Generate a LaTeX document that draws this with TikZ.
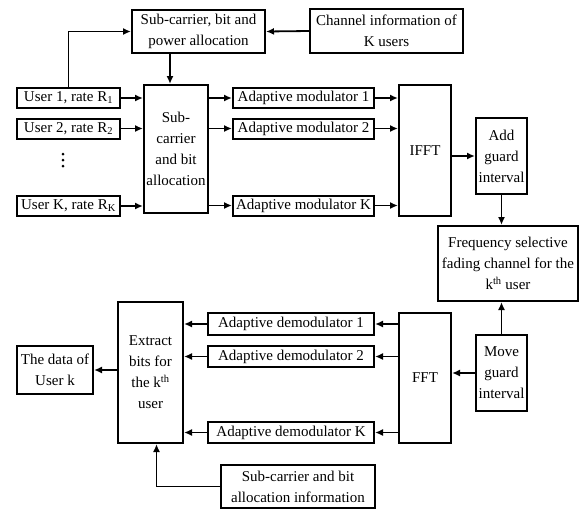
\documentclass[tikz,border=0pt]{standalone}
\usepackage{fontspec}
\setmainfont{Liberation Serif}
\usetikzlibrary{arrows.meta,positioning,calc}

\begin{document}
\begin{tikzpicture}[
  x=1pt, y=-1pt,
  >={Latex[length=8pt,width=7pt]},
  every node/.style={inner sep=1pt},
  box/.style={draw, line width=2pt, align=center, font=\fontsize{15}{21}\selectfont},
  row/.style={box, minimum height=20pt},
  tall/.style={box, minimum width=52pt},
  flow/.style={->, line width=1.8pt}
]
\useasboundingbox (0,0) rectangle (579,509);

% --- Transmitter side ---
\node[box, minimum width=133pt, minimum height=43pt] (alloc)  at (198.5,31.5) {Sub-carrier, bit and\\ power allocation};
\node[box, minimum width=153pt, minimum height=44pt] (chinfo) at (386.5,31)   {Channel information of\\ K users};

\node[row, minimum width=103pt] (user1) at (68.5,98)    {User 1, rate R\textsubscript{1}};
\node[row, minimum width=103pt] (user2) at (68.5,128.5) {User 2, rate R\textsubscript{2}};
\node[minimum width=6pt, minimum height=18pt] (dots) at (63,160) {};
\node[row, minimum width=103pt] (userK) at (68.5,206)   {User K, rate R\textsubscript{K}};

\node[box, minimum width=64pt, minimum height=128pt] (sba) at (176,149) {Sub-\\ carrier\\ and bit\\ allocation};

\node[row, minimum width=141pt] (mod1) at (303.5,98)    {Adaptive modulator 1};
\node[row, minimum width=141pt] (mod2) at (303.5,128.5) {Adaptive modulator 2};
\node[row, minimum width=141pt] (modK) at (303.5,205.5) {Adaptive modulator K};

\node[tall, minimum height=131pt] (ifft)  at (425,150.5) {IFFT};
\node[box, minimum width=51pt, minimum height=76pt] (addgi) at (501.5,156) {Add\\ guard\\ interval};

% --- Channel ---
\node[box, minimum width=140pt, minimum height=75pt] (fsc) at (508,263.5) {Frequency selective\\ fading channel for the\\ k\textsuperscript{th} user};

% --- Receiver side ---
\node[box, minimum width=51pt, minimum height=76pt] (mgi) at (501.5,373) {Move\\ guard\\ interval};
\node[tall, minimum height=130pt] (fft) at (425,378) {FFT};

\node[row, minimum width=166pt, minimum height=22pt] (dem1) at (291,324)   {Adaptive demodulator 1};
\node[row, minimum width=166pt, minimum height=21pt] (dem2) at (291,356.5) {Adaptive demodulator 2};
\node[row, minimum width=166pt, minimum height=21pt] (demK) at (291,432.5) {Adaptive demodulator K};

\node[box, minimum width=65pt, minimum height=141pt] (extract) at (150.5,372.5) {Extract\\ bits for\\ the k\textsuperscript{th}\\ user};
\node[box, minimum width=76pt, minimum height=48pt]  (data)    at (55,370)       {The data of\\ User k};
\node[box, minimum width=154pt, minimum height=43pt] (sbinfo)  at (298,486.5)    {Sub-carrier and bit\\ allocation information};

% vertical dots between the users
\foreach \dy in {-6,0,6} {
  \fill ($(dots)+(0,\dy)$) circle (1.5pt);
}

% --- connectors ---
\draw[flow] (chinfo.west) -- (alloc.east);
\draw[flow] (user1.north) |- (alloc.west);
\draw[flow] ([xshift=-6pt]alloc.south -| sba.north) -- ([xshift=-6pt]sba.north);
\foreach \u in {user1,user2,userK} {
  \draw[flow] (\u.east) -- (\u.east -| sba.west);
}
\foreach \m in {mod1,mod2,modK} {
  \draw[flow] (sba.east |- \m.west) -- (\m.west);
  \draw[flow] (\m.east) -- (\m.east -| ifft.west);
}
\draw[flow] (ifft.east |- addgi.west) -- (addgi.west);
\draw[flow] (addgi.south) -- (addgi.south |- fsc.north);
\draw[flow] (mgi.north) -- (mgi.north |- fsc.south);
\draw[flow] (mgi.west) -- (mgi.west -| fft.east);
\foreach \d in {dem1,dem2,demK} {
  \draw[flow] (fft.west |- \d.east) -- (\d.east);
  \draw[flow] (\d.west) -- (\d.west -| extract.east);
}
\draw[flow] (extract.west |- data.east) -- (data.east);
\draw[flow] (sbinfo.west) -| ([xshift=6pt]extract.south);

\end{tikzpicture}
\end{document}
